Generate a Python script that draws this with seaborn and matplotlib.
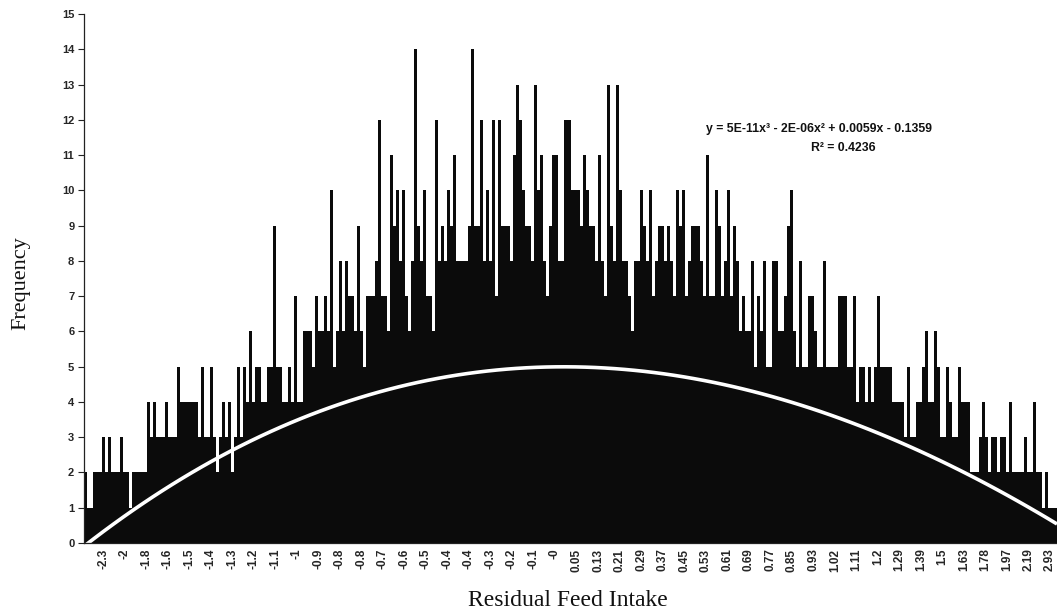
import numpy as np
import pandas as pd
import matplotlib
matplotlib.use("Agg")
import matplotlib.pyplot as plt
import seaborn as sns

# Frequency of each Residual Feed Intake class (left to right)
freq = [
    2, 1, 1, 2, 2, 2, 3, 2, 3, 2,
    2, 2, 3, 2, 2, 1, 2, 2, 2, 2,
    2, 4, 3, 4, 3, 3, 3, 4, 3, 3,
    3, 5, 4, 4, 4, 4, 4, 4, 3, 5,
    3, 3, 5, 3, 2, 3, 4, 3, 4, 2,
    3, 5, 3, 5, 4, 6, 4, 5, 5, 4,
    4, 5, 5, 9, 5,
    5, 4, 4, 5, 4, 7, 4, 4, 6, 6,
    6, 5, 7, 6, 6, 7, 6, 10, 5, 6,
    8, 6, 8, 7, 7, 6, 9, 6, 5, 7,
    7, 7, 8, 12, 7, 7, 6, 11, 9, 10,
    8, 10, 7, 6, 8, 14, 9, 8, 10, 7,
    7, 6, 12, 8, 9, 8, 10, 9, 11, 8,
    8, 8, 8, 9, 14, 9, 9, 12, 8, 10,
    8, 12, 7, 12, 9, 9, 9, 8, 11, 13,
    12, 10, 9, 9, 8, 13, 10, 11, 8, 7,
    9, 11, 11, 8, 8, 12, 12, 10, 10, 10,
    9, 11, 10, 9, 9, 8, 11, 8, 7, 13,
    9, 8, 13, 10, 8, 8, 7, 6, 8, 8,
    10, 9, 8, 10, 7, 8, 9, 9, 8, 9,
    8, 7, 10, 9, 10, 7, 8, 9, 9, 9,
    8, 7, 11, 7, 7, 10, 9, 7, 8, 10,
    7, 9, 8, 6, 7, 6, 6, 8, 5, 7,
    6, 8, 5, 5, 8, 8, 6, 6, 7, 9,
    10, 6, 5, 8, 5, 5, 7, 7, 6, 5,
    5, 8, 5, 5, 5, 5, 7, 7, 7, 5,
    5, 7, 4, 5, 5, 4, 5, 4, 5, 7,
    5, 5, 5, 5, 4, 4, 4, 4, 3, 5,
    3, 3, 4, 4, 5, 6, 4, 4, 6, 5,
    3, 3, 5, 4, 3, 3, 5, 4, 4, 4,
    2, 2, 2, 3, 4, 3, 2, 3, 3, 2,
    3, 3, 2, 4, 2, 2, 2, 2, 3, 2,
    2, 4, 2, 2, 1, 2, 1, 1, 1,
]

# Points read along the white polynomial trendline (class index, frequency)
trend_cat = [0.5, 31, 61, 94.5, 128, 158, 191, 221, 254.5, 284.5, 304.5, 323.5]
trend_val = [0.0, 1.7, 3.15, 4.25, 4.86, 4.95, 4.8, 4.25, 3.5, 2.35, 1.5, 0.5]

tick_labels = ["-2.3", "-2", "-1.8", "-1.6", "-1.5", "-1.4", "-1.3", "-1.2", "-1.1", "-1",
               "-0.9", "-0.8", "-0.8", "-0.7", "-0.6", "-0.5", "-0.4", "-0.4", "-0.3", "-0.2",
               "-0.1", "-0", "0.05", "0.13", "0.21", "0.29", "0.37", "0.45", "0.53", "0.61",
               "0.69", "0.77", "0.85", "0.93", "1.02", "1.11", "1.2", "1.29", "1.39", "1.5",
               "1.63", "1.78", "1.97", "2.19", "2.93"]

eq_text = "y = 5E-11x\u00b3 - 2E-06x\u00b2 + 0.0059x - 0.1359"
r2_text = "R\u00b2 = 0.4236"

sns.set_theme(style="white")
plt.rcParams['font.family'] = ['Liberation Sans', 'DejaVu Sans']

W, H = 1057, 614
fig = plt.figure(figsize=(W / 100, H / 100), dpi=100)
fig.patch.set_facecolor("white")
ax = fig.add_axes([84 / W, 1 - 543 / H, (W - 84) / W, (543 - 14) / H])

n = len(freq)
df = pd.DataFrame({"cls": np.arange(n), "freq": freq})
sns.barplot(data=df, x="cls", y="freq", color="#0b0b0b", saturation=1,
            width=1.0, linewidth=0, errorbar=None, ax=ax)

ax.set_xlim(-0.5, n - 0.5)
ax.set_ylim(0, 15)

sns.regplot(x=np.array(trend_cat), y=np.array(trend_val), order=3, ci=None,
            scatter=False, truncate=False, ax=ax,
            line_kws=dict(color="white", lw=2.6, solid_capstyle="butt"))
ax.set_xlim(-0.5, n - 0.5)
ax.set_ylim(0, 15)

# y axis
ax.set_yticks(range(0, 16))
ax.set_yticklabels([str(v) for v in range(0, 16)], fontsize=8, fontweight="bold")
ax.tick_params(axis="y", direction="out", length=4, width=0.8, color="#222222", pad=3, left=True)

# x axis: category labels every few classes
first = (104 - 85) / 3 - 0.5
last = (1050 - 85) / 3 - 0.5
ax.set_xticks(np.linspace(first, last, len(tick_labels)))
ax.set_xticklabels(tick_labels, rotation=90, fontsize=8.5, fontweight="bold")
ax.tick_params(axis="x", length=0, pad=4)

for s in ["top", "right"]:
    ax.spines[s].set_visible(False)
for s in ["left", "bottom"]:
    ax.spines[s].set_visible(True)
    ax.spines[s].set_color("#222222")
    ax.spines[s].set_linewidth(0.9)
ax.grid(False)
ax.set_facecolor("white")

ax.set_xlabel("Residual Feed Intake", family="Liberation Serif", fontsize=17,
              color="#111111", va="top")
ax.set_ylabel("Frequency", family="Liberation Serif", fontsize=16, color="#111111")
ax.xaxis.set_label_coords((568 - 84) / (W - 84), (543 - 590) / 529)
ax.yaxis.set_label_coords((30 - 84) / (W - 84), (543 - 283) / 529)

fig.text(819 / W, 1 - 129 / H, eq_text, ha="center", va="center", fontsize=8.8,
         fontweight="bold", color="#111111")
fig.text(843 / W, 1 - 148 / H, r2_text, ha="center", va="center", fontsize=8.8,
         fontweight="bold", color="#111111")

fig.savefig("out.png", dpi=100, facecolor="white")
